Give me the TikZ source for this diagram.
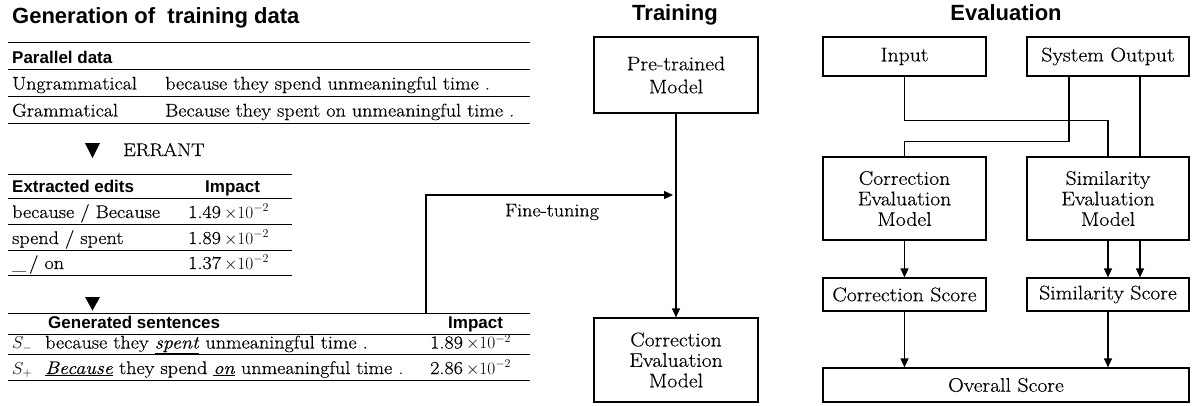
\documentclass[tikz,border=0pt]{standalone}
\usepackage{fontspec}
\setmainfont{Latin Modern Roman}[FakeStretch=1.1, FakeBold=0.4]
\newfontfamily\hd{Liberation Sans}
\usetikzlibrary{arrows.meta}
\tikzset{
  rule/.style={line width=1pt},
  box/.style={draw, line width=1.2pt, inner sep=0pt, align=center, font=\fontsize{19.7}{20.5}\selectfont},
  txt/.style={anchor=base west, inner sep=0pt, font=\fontsize{18.3}{20}\selectfont},
  hdr/.style={anchor=base west, inner sep=0pt, font=\hd\bfseries\fontsize{17}{20}\selectfont},
  ttl/.style={anchor=base, inner sep=0pt, font=\hd\bfseries\fontsize{22}{26}\selectfont},
  conn/.style={line width=1.2pt},
  arr/.style={conn, -{Triangle[length=9pt,width=8pt]}},
}
\begin{document}
\begin{tikzpicture}[x=1pt,y=-1pt]
\useasboundingbox (0,0) rectangle (1192,405);

% ---------------- Generation of training data ----------------
\node[ttl, anchor=base west] (t1) at (12,23) {Generation of \ training data};

% table 1
\draw[rule] (8,42) -- (530,42);
\draw[rule] (8,69) -- (530,69);
\draw[rule] (8,96) -- (530,96);
\draw[rule] (8,123) -- (530,123);
\node[hdr] (pd) at (12,63) {Parallel data};
\node[txt] (ug) at (12,89.5) {Ungrammatical};
\node[txt] (ugs) at (165,89.5) {because they spend unmeaningful time .};
\node[txt] (g) at (12,116.5) {Grammatical};
\node[txt] (gs) at (165,116.5) {Because they spent on unmeaningful time .};

% ERRANT
\fill (85,143) -- (100,143) -- (92.5,158) -- cycle;
\node[txt] (errant) at (123,156) {ERRANT};

% table 2
\draw[rule] (8,174) -- (292,174);
\draw[rule] (8,198) -- (292,198);
\draw[rule] (8,224) -- (292,224);
\draw[rule] (8,250) -- (292,250);
\draw[rule] (8,275) -- (292,275);
\node[hdr] (ee) at (12,192) {Extracted edits};
\node[hdr] (im1) at (205,192) {Impact};
\node[txt] (e1) at (12,218) {because / Because};
\node[txt] (v1) at (188,218) {1.49\,$\times10^{-2}$};
\node[txt] (e2) at (12,244) {spend / spent};
\node[txt] (v2) at (188,244) {1.89\,$\times10^{-2}$};
\node[txt] (e3) at (12,269) {\_\,/ on};
\node[txt] (v3) at (188,269) {1.37\,$\times10^{-2}$};

\fill (85,297) -- (100,297) -- (92.5,310.5) -- cycle;

% table 3
\draw[rule] (8,313) -- (530,313);
\draw[rule] (8,334) -- (530,334);
\draw[rule] (8,354) -- (530,354);
\draw[rule] (8,380) -- (530,380);
\node[hdr] (gsh) at (48,328.5) {Generated sentences};
\node[hdr] (im2) at (448,328.5) {Impact};
\node[txt] (sm) at (12,348.5) {$S_-$};
\node[txt] (smt) at (45,348.5) {because they \underline{\textit{spent}} unmeaningful time .};
\node[txt] (smv) at (430,348.5) {1.89\,$\times10^{-2}$};
\node[txt] (sp) at (12,374) {$S_+$};
\node[txt] (spt) at (45,374) {\underline{\textit{Because}} they spend \underline{\textit{on}} unmeaningful time .};
\node[txt] (spv) at (430,374) {2.86\,$\times10^{-2}$};

% ---------------- Training ----------------
\node[ttl] (t2) at (675,20.5) {Training};
\node[box, minimum width=164pt, minimum height=76pt, font=\fontsize{19.7}{23}\selectfont] (pt) at (676,75) {Pre-trained\\Model};
\node[box, minimum width=164pt, minimum height=84pt] (cem) at (676,360) {Correction\\Evaluation\\Model};
\draw[arr] (pt.south) -- (cem.north);
\coordinate (ftstart) at (426,313);
\coordinate (ftend) at (673,195);
\draw[arr] (ftstart) |- (ftend);
\node[txt, anchor=center] (ftl) at (552,212) {Fine-tuning};

% ---------------- Evaluation ----------------
\node[ttl] (t3) at (1006,20.5) {Evaluation};
\node[box, minimum width=163pt, minimum height=39pt] (in) at (904.5,56.5) {Input};
\node[box, minimum width=162pt, minimum height=39pt] (so) at (1108,56.5) {System Output};
\node[box, minimum width=163pt, minimum height=83pt] (ce) at (904.5,198.5) {Correction\\Evaluation\\Model};
\node[box, minimum width=162pt, minimum height=83pt] (se) at (1108,198.5) {Similarity\\Evaluation\\Model};
\node[box, minimum width=163pt, minimum height=33pt] (cs) at (904.5,294.5) {Correction Score};
\node[box, minimum width=162pt, minimum height=33pt] (ss) at (1108,294.5) {Similarity Score};
\node[box, minimum width=366pt, minimum height=34pt] (ov) at (1006,385) {Overall Score};

\draw[conn] (in.south) -- ++(0,44) -| (se.north);
\draw[conn] ([xshift=-39pt]so.south) -- ++(0,65) -| (ce.north);
\draw[conn] ([xshift=32pt]so.south) -- ([xshift=32pt]se.north);
\draw[arr] (ce.south) -- (cs.north);
\draw[arr] (se.south) -- (ss.north);
\draw[arr] ([xshift=32pt]se.south) -- ([xshift=32pt]ss.north);
\draw[arr] (cs.south) -- (cs.south |- ov.north);
\draw[arr] (ss.south) -- (ss.south |- ov.north);
\end{tikzpicture}
\end{document}
